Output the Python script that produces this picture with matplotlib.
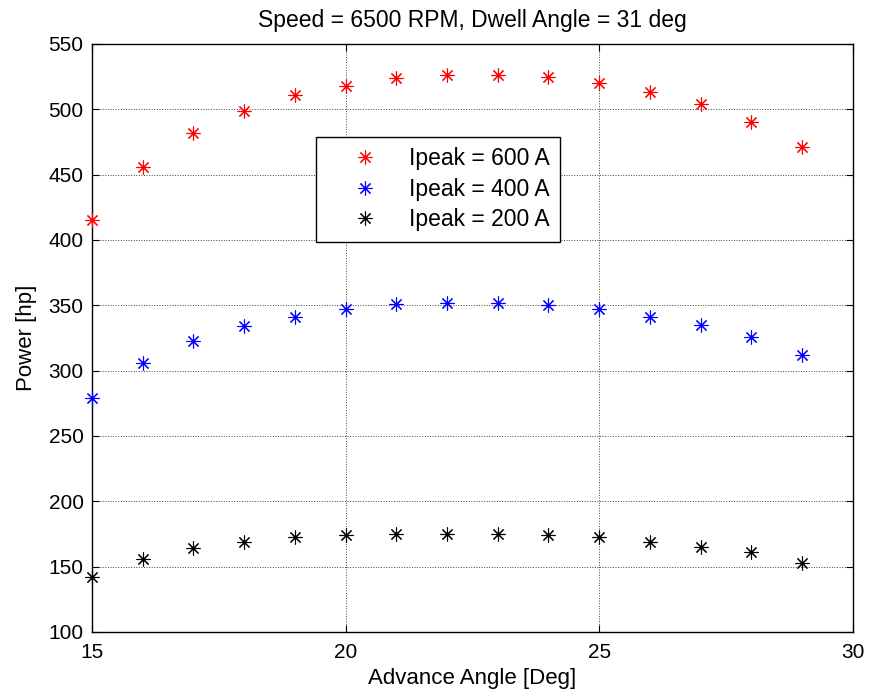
import matplotlib
matplotlib.use("Agg")
import matplotlib.pyplot as plt
import numpy as np

plt.rcParams['font.family'] = ['Liberation Sans', 'DejaVu Sans']

advance = [15, 16, 17, 18, 19, 20, 21, 22, 23, 24, 25, 26, 27, 28, 29]
p600 = [415, 456, 482, 499, 511, 518, 524, 526, 526, 525, 520, 513, 504, 490, 471]
p400 = [279, 306, 323, 334, 341, 347, 351, 352, 352, 350, 347, 341, 335, 326, 312]
p200 = [142, 156, 164, 169, 173, 174, 175, 175, 175, 174, 173, 169, 165, 161, 153]
labels = ['Ipeak = 600 A', 'Ipeak = 400 A', 'Ipeak = 200 A']
colors = ['#ff0000', '#0000ff', '#000000']

fig = plt.figure(figsize=(8.7, 6.98), dpi=100)
ax = fig.add_axes([0.1057, 0.0946, 0.8745, 0.8424])

for vals, lab, c in zip([p600, p400, p200], labels, colors):
    ax.plot(advance, vals, linestyle='none', marker=(8, 2, 0), markersize=10,
            markeredgewidth=0.8, color=c, label=lab, clip_on=False, zorder=3)

ax.set_xlim(15, 30)
ax.set_ylim(100, 550)
ax.set_xticks([15, 20, 25, 30])
ax.set_yticks(np.arange(100, 551, 50))
ax.grid(True, color='#404040', linestyle=':', linewidth=0.7)
ax.tick_params(direction='in', top=True, right=True, labelsize=15, length=5, pad=6)
ax.tick_params(axis='x', pad=8)
for s in ax.spines.values():
    s.set_linewidth(1.0)

ax.set_xlabel('Advance Angle [Deg]', fontsize=16, labelpad=4)
ax.set_ylabel('Power [hp]', fontsize=16, labelpad=8)
ax.set_title('Speed = 6500 RPM, Dwell Angle = 31 deg', fontsize=16.5, pad=12)

leg = ax.legend(loc='upper left', bbox_to_anchor=(0.2943, 0.842), fontsize=16.5,
                frameon=True, fancybox=False, edgecolor='black', framealpha=1,
                borderaxespad=0, borderpad=0.45, labelspacing=0.33,
                handlelength=3.4, handletextpad=0.2)
leg.get_frame().set_linewidth(1.0)

fig.savefig('out.png', dpi=100)
